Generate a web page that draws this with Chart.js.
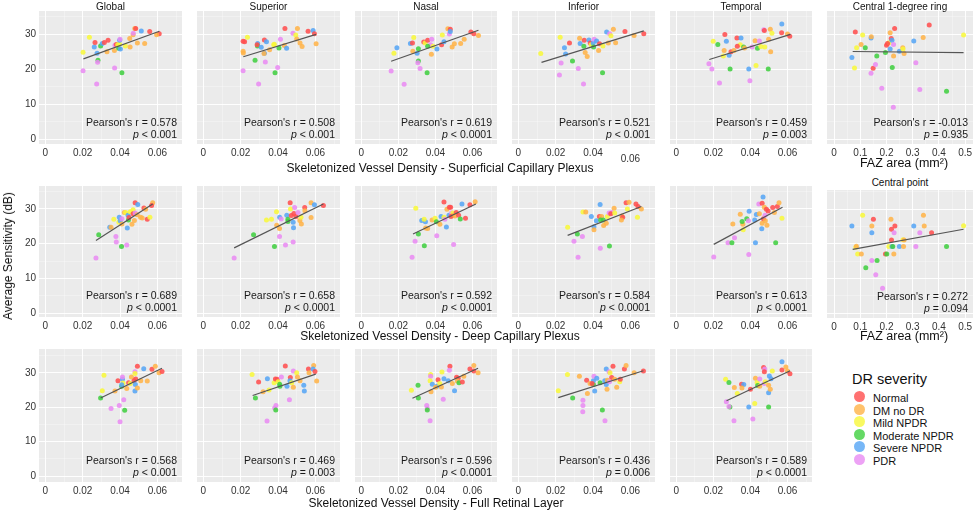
<!DOCTYPE html>
<html>
<head>
<meta charset="utf-8">
<script src="https://cdn.jsdelivr.net/npm/chart.js@4.4.1/dist/chart.umd.min.js"></script>
<style>
  body { margin: 0; background: #fff; font-family: 'Liberation Sans', Arial, sans-serif; }
  #fig { position: relative; width: 975px; height: 513px; overflow: hidden; }
  .panel { position: absolute; }
  .lbl { position: absolute; white-space: nowrap; color: #111; line-height: 1; }
  .key { position: absolute; font-size: 11px; color: #111; line-height: 1; white-space: nowrap; }
  .key i { position: absolute; left: -19px; top: -2px; width: 11px; height: 11px; border-radius: 50%; }
</style>
</head>
<body>
<div id="fig"></div>
<script>
// groups (DR severity) and their colours
const groups = ['Normal', 'DM no DR', 'Mild NPDR', 'Moderate NPDR', 'Severe NPDR', 'PDR'];
const groupColors = ['#ff4d4d', '#ffb347', '#f8f83a', '#3fcf3f', '#55a5f5', '#e98bf2'];

const regionTitles = ['Global', 'Superior', 'Nasal', 'Inferior', 'Temporal'];

// points are [x, y, group index]
// ---- superficial capillary plexus
const scpGlobal = [[0.0202,24.9,2],[0.0202,19.6,5],[0.0236,29.2,2],[0.0262,26.4,4],[0.0266,27.7,0],[0.0277,24.6,4],[0.0282,22.6,3],[0.028,22.0,5],[0.0275,15.8,5],[0.0296,26.7,3],[0.0305,27.4,4],[0.0316,27.7,0],[0.0336,28.3,0],[0.033,25.0,1],[0.037,25.4,1],[0.0373,26.9,5],[0.0371,20.4,5],[0.038,27.1,0],[0.0388,27.0,2],[0.0393,26.0,3],[0.0398,27.2,2],[0.0398,28.3,4],[0.04,28.6,5],[0.0402,25.8,4],[0.041,19.0,3],[0.0429,26.7,2],[0.0454,26.4,1],[0.0452,28.8,1],[0.047,29.9,1],[0.0471,30.3,5],[0.0479,31.7,1],[0.0484,31.7,0],[0.0493,27.5,1],[0.0514,31.0,4],[0.0532,27.4,1],[0.0559,30.8,0],[0.061,30.2,0],[0.0596,29.9,1]];
const scpSuperior = [[0.0213,19.6,5],[0.0236,29.2,2],[0.0213,28.0,0],[0.0221,27.9,0],[0.0213,25.2,1],[0.0214,24.7,1],[0.0277,22.6,3],[0.0291,27.4,4],[0.029,26.7,3],[0.0288,27.0,0],[0.0296,15.8,5],[0.031,26.3,4],[0.0327,28.4,0],[0.0338,27.9,4],[0.0332,22.1,5],[0.0327,24.6,4],[0.0325,24.5,1],[0.0355,25.6,1],[0.038,27.2,2],[0.0377,27.0,2],[0.0398,20.5,5],[0.0384,19.0,3],[0.0405,26.1,3],[0.0413,28.6,5],[0.0434,26.8,1],[0.0437,31.7,0],[0.0446,26.0,4],[0.048,30.3,5],[0.0495,29.8,2],[0.05,28.7,1],[0.0504,31.7,1],[0.0518,27.5,1],[0.0529,26.5,1],[0.0561,30.9,0],[0.0588,31.1,4],[0.0595,30.2,0],[0.0604,27.3,1]];
const scpNasal = [[0.0161,19.5,5],[0.0176,24.6,2],[0.0192,26.2,4],[0.0231,15.7,5],[0.0265,27.4,4],[0.0276,27.5,0],[0.0278,25.2,1],[0.0283,29.1,2],[0.0301,24.6,4],[0.0308,25.9,3],[0.0308,22.4,3],[0.0305,21.9,5],[0.0317,20.2,5],[0.0337,27.8,0],[0.0344,27.5,2],[0.0358,28.3,0],[0.0355,19.0,3],[0.038,28.6,5],[0.0374,27.0,5],[0.0358,26.6,3],[0.0387,26.6,2],[0.0378,24.3,1],[0.0408,25.8,4],[0.0437,29.8,2],[0.0433,27.0,0],[0.0446,27.9,4],[0.0467,31.6,1],[0.048,31.5,0],[0.0475,30.1,5],[0.048,30.8,4],[0.049,26.4,1],[0.0502,27.3,1],[0.0536,27.4,1],[0.0555,28.6,1],[0.0591,30.7,0],[0.0607,30.2,0],[0.0632,29.7,1]];
const scpInferior = [[0.012,24.5,2],[0.0224,29.2,2],[0.0229,21.8,5],[0.022,18.4,5],[0.0247,26.2,4],[0.0253,24.4,4],[0.0274,27.5,0],[0.029,22.4,3],[0.0321,20.2,5],[0.0328,28.9,1],[0.0331,27.4,4],[0.0353,28.3,0],[0.0351,26.6,3],[0.0349,15.8,5],[0.0358,24.8,1],[0.0369,23.7,1],[0.0378,28.4,4],[0.0385,27.5,0],[0.039,27.0,2],[0.0401,27.5,4],[0.0403,26.4,3],[0.0406,28.6,5],[0.0419,28.1,4],[0.0435,27.3,0],[0.043,25.4,1],[0.0451,19.0,3],[0.0453,26.7,2],[0.0482,27.5,1],[0.0473,30.7,4],[0.0489,30.2,5],[0.0496,29.6,2],[0.0509,31.5,1],[0.0521,27.6,1],[0.0571,30.8,0],[0.062,29.7,1],[0.0672,30.2,0]];
const scpTemporal = [[0.0176,21.6,5],[0.0192,20.1,5],[0.0199,28.0,2],[0.0224,27.1,3],[0.0233,16.1,5],[0.0254,23.8,2],[0.0258,25.4,1],[0.0262,30.0,0],[0.027,28.0,4],[0.0285,24.0,4],[0.029,20.1,3],[0.0295,25.0,0],[0.0311,25.4,1],[0.0345,27.0,2],[0.0327,29.0,0],[0.0349,29.0,4],[0.0329,26.6,0],[0.0363,26.4,3],[0.0368,26.1,1],[0.0391,20.1,4],[0.0397,16.7,5],[0.0409,26.4,5],[0.0425,28.2,1],[0.0438,26.0,3],[0.043,21.1,2],[0.0448,28.1,5],[0.0456,26.5,2],[0.0477,26.4,2],[0.0472,31.3,5],[0.0475,31.1,0],[0.0498,28.6,1],[0.0496,20.1,3],[0.0509,25.0,1],[0.0507,31.5,1],[0.0516,30.3,2],[0.0568,30.5,0],[0.0569,33.0,4],[0.06,30.1,1],[0.0612,29.5,0]];
const scpFits = [
  [[0.0204,23.0],[0.0611,30.9]],
  [[0.0214,23.6],[0.0604,30.0]],
  [[0.0161,22.3],[0.0632,31.2]],
  [[0.0124,22.0],[0.0672,31.0]],
  [[0.0178,22.8],[0.0616,30.0]]
];
const scpStats = [['0.578','< 0.001'],['0.508','< 0.001'],['0.619','< 0.0001'],['0.521','< 0.001'],['0.459','= 0.003']];

// ---- FAZ area vs central 1-degree ring
const fazRing = [[0.068,23.4,4],[0.081,30.7,0],[0.086,26.2,2],[0.078,20.4,2],[0.103,27.1,1],[0.109,29.8,2],[0.119,26.2,3],[0.141,29.0,4],[0.142,29.3,1],[0.141,18.9,5],[0.149,20.3,0],[0.158,21.4,5],[0.163,23.8,3],[0.182,14.6,5],[0.196,24.8,3],[0.2,26.9,0],[0.209,27.6,2],[0.204,27.4,0],[0.214,30.5,1],[0.214,25.8,4],[0.218,28.8,0],[0.221,28.3,4],[0.227,27.1,5],[0.227,23.8,1],[0.231,31.7,0],[0.222,20.5,3],[0.226,9.1,5],[0.249,25.2,4],[0.262,26.2,1],[0.267,24.5,1],[0.263,25.8,2],[0.304,28.1,4],[0.312,21.9,5],[0.327,14.2,5],[0.34,29.1,1],[0.363,32.7,0],[0.429,13.7,3],[0.494,29.8,2]];
const fazRingFit = [[0.071,25.1],[0.494,24.8]];
const fazRingStats = ['-0.013', '= 0.935'];

// ---- deep capillary plexus
const dcpGlobal = [[0.0271,15.9,5],[0.0286,22.6,3],[0.0345,24.7,4],[0.0352,24.7,1],[0.0367,27.0,2],[0.0396,27.6,4],[0.0378,22.1,5],[0.038,20.5,5],[0.0394,26.2,2],[0.0401,26.6,4],[0.0408,19.2,3],[0.041,27.2,5],[0.041,25.7,1],[0.0423,29.0,1],[0.043,29.0,2],[0.0436,19.6,5],[0.0439,24.5,4],[0.0445,26.8,3],[0.0443,28.2,4],[0.0448,27.5,0],[0.0455,29.2,2],[0.0464,25.6,1],[0.047,29.8,2],[0.047,28.6,0],[0.0477,26.7,1],[0.0481,31.8,0],[0.0481,28.8,5],[0.0495,31.3,4],[0.0492,28.3,1],[0.051,27.6,1],[0.0519,27.4,1],[0.0528,30.3,0],[0.0537,29.9,1],[0.0546,27.0,0],[0.056,27.6,2],[0.0575,31.8,1],[0.0569,31.0,0]];
const dcpSuperior = [[0.0165,15.9,5],[0.0269,22.6,3],[0.0381,19.2,3],[0.044,19.6,5],[0.0481,20.5,5],[0.0408,22.1,5],[0.0338,26.8,2],[0.0365,27.0,2],[0.0392,29.2,2],[0.0393,25.3,1],[0.0408,24.4,1],[0.0409,27.6,4],[0.0417,27.1,5],[0.0447,28.2,4],[0.0453,27.0,3],[0.0453,26.4,3],[0.0465,31.8,0],[0.0467,30.0,2],[0.0471,28.1,0],[0.0481,26.2,4],[0.0483,24.6,4],[0.0485,28.7,0],[0.0489,30.4,5],[0.0496,27.8,0],[0.0507,29.0,5],[0.0517,26.7,1],[0.0525,25.7,1],[0.0523,27.6,2],[0.0543,30.4,0],[0.0544,29.5,1],[0.0577,31.8,1],[0.0577,27.5,1],[0.0595,31.2,4],[0.0643,31.0,0]];
const dcpNasal = [[0.0274,16.1,5],[0.029,20.7,5],[0.0308,22.8,3],[0.034,19.4,3],[0.0294,30.2,2],[0.0326,26.7,4],[0.0346,26.3,4],[0.0339,27.0,2],[0.0347,24.5,1],[0.0358,24.4,1],[0.0382,26.8,1],[0.0398,27.3,2],[0.0405,26.3,3],[0.0407,22.3,5],[0.0424,25.6,1],[0.043,27.8,4],[0.0446,27.6,2],[0.0446,32.0,0],[0.0451,27.0,5],[0.0459,24.8,4],[0.0462,29.9,1],[0.0473,28.2,4],[0.0475,30.5,0],[0.0482,30.5,0],[0.0487,28.8,5],[0.0494,28.8,2],[0.0493,28.1,1],[0.0484,27.8,0],[0.0512,29.0,0],[0.0505,28.0,1],[0.0498,19.8,5],[0.0525,28.2,0],[0.0534,27.1,3],[0.0562,27.3,0],[0.0543,31.4,4],[0.0586,31.2,0],[0.0614,32.1,1]];
const dcpInferior = [[0.0264,24.7,2],[0.0298,20.7,5],[0.0316,22.8,3],[0.0343,22.1,5],[0.032,16.1,5],[0.0346,29.1,2],[0.0361,29.1,1],[0.0391,27.8,4],[0.0438,31.3,4],[0.0434,27.8,0],[0.0418,26.6,4],[0.0405,24.9,4],[0.0405,24.0,1],[0.0446,27.8,1],[0.0455,26.8,3],[0.0457,25.2,1],[0.0441,26.8,3],[0.0471,25.9,1],[0.0477,27.8,2],[0.0486,28.8,5],[0.05,29.0,5],[0.0495,28.6,0],[0.0439,18.7,5],[0.0488,19.3,3],[0.0513,30.2,1],[0.0516,28.8,2],[0.0554,28.0,1],[0.0559,27.6,0],[0.0552,26.8,1],[0.0577,31.8,0],[0.0593,31.9,1],[0.0584,30.0,2],[0.063,31.4,0],[0.0641,30.7,0],[0.0659,30.0,1],[0.0638,27.6,2]];
const dcpTemporal = [[0.0202,16.2,5],[0.0279,20.3,5],[0.03,20.3,3],[0.0314,21.7,5],[0.0305,25.7,1],[0.0345,28.5,1],[0.0359,25.6,1],[0.0361,24.0,2],[0.0355,26.4,3],[0.0393,29.3,4],[0.038,27.2,3],[0.0389,26.6,5],[0.0391,16.9,5],[0.0427,20.3,4],[0.0432,28.4,4],[0.0423,26.8,4],[0.0448,28.6,1],[0.0445,31.4,5],[0.0463,31.6,0],[0.0468,33.4,4],[0.0463,25.9,1],[0.0461,24.3,4],[0.047,27.2,0],[0.0475,30.5,1],[0.0479,28.2,5],[0.0486,29.9,0],[0.0495,29.4,0],[0.0489,25.3,1],[0.048,26.6,1],[0.052,30.4,0],[0.0536,20.3,3],[0.0529,29.0,1],[0.0545,30.7,0],[0.0554,31.8,1],[0.057,27.3,2]];
const dcpFits = [
  [[0.0271,20.9],[0.0575,31.4]],
  [[0.0165,18.8],[0.0643,31.4]],
  [[0.0279,22.8],[0.0618,31.4]],
  [[0.0264,22.4],[0.0659,30.7]],
  [[0.0202,19.8],[0.0573,30.5]]
];
const dcpStats = [['0.689','< 0.0001'],['0.658','< 0.0001'],['0.592','< 0.0001'],['0.584','< 0.0001'],['0.613','< 0.0001']];

// ---- FAZ area vs central point
const fazPoint = [[0.068,25.1,4],[0.109,28.2,2],[0.083,19.0,2],[0.085,19.3,1],[0.09,17.1,2],[0.104,17.1,1],[0.121,13.1,3],[0.144,25.1,1],[0.144,23.2,4],[0.15,27.1,0],[0.144,15.2,5],[0.164,15.2,3],[0.159,11.1,5],[0.185,7.2,5],[0.217,27.1,1],[0.219,24.2,0],[0.232,25.1,0],[0.229,23.2,5],[0.219,21.1,0],[0.209,19.2,2],[0.221,19.2,4],[0.224,19.2,3],[0.196,17.1,0],[0.201,17.1,3],[0.228,17.1,1],[0.263,21.2,2],[0.267,21.1,1],[0.249,19.2,4],[0.265,19.2,1],[0.304,25.1,4],[0.312,19.2,5],[0.341,28.2,1],[0.344,25.1,1],[0.327,23.2,5],[0.372,23.2,0],[0.429,19.2,3],[0.494,25.2,2]];
const fazPointFit = [[0.071,18.4],[0.494,24.2]];
const fazPointStats = ['0.272', '= 0.094'];

// ---- full retinal layer
const frlGlobal = [[0.0314,29.3,2],[0.0305,24.8,2],[0.0296,22.7,3],[0.0352,19.6,5],[0.0396,20.5,5],[0.042,22.2,5],[0.04,15.8,5],[0.0425,19.1,3],[0.0373,24.7,1],[0.0389,27.7,0],[0.0413,28.1,4],[0.0413,28.8,5],[0.0409,26.1,3],[0.0416,27.0,2],[0.0409,26.5,4],[0.0436,25.4,1],[0.0446,27.1,0],[0.0455,26.9,2],[0.0461,28.8,1],[0.0475,27.7,0],[0.048,24.7,4],[0.048,30.3,5],[0.048,29.8,2],[0.0484,28.2,0],[0.0482,26.6,4],[0.0493,25.6,1],[0.0493,31.9,0],[0.0527,31.2,4],[0.0511,27.7,1],[0.0546,27.6,1],[0.0571,31.0,0],[0.0589,31.9,1],[0.0609,30.0,1],[0.0625,30.4,0]];
const frlSuperior = [[0.0261,29.5,2],[0.0279,22.7,3],[0.0296,27.3,0],[0.0343,28.3,4],[0.032,24.5,1],[0.0352,25.0,2],[0.0341,16.0,5],[0.0379,27.1,2],[0.0386,28.2,0],[0.0395,28.1,0],[0.0382,19.8,5],[0.0389,20.5,5],[0.0388,19.2,3],[0.04,27.4,2],[0.0409,26.7,3],[0.041,26.1,3],[0.0418,28.8,5],[0.0439,32.0,0],[0.0448,26.1,4],[0.0461,22.2,5],[0.0466,28.6,0],[0.0464,27.7,4],[0.0473,27.1,2],[0.0482,30.5,5],[0.0482,25.8,1],[0.05,30.0,2],[0.0504,28.8,1],[0.0518,27.7,1],[0.0538,26.4,4],[0.0541,24.7,4],[0.0563,31.1,0],[0.0566,30.0,1],[0.0591,32.1,1],[0.0588,31.1,4],[0.0598,30.4,0],[0.0607,27.6,1]];
const frlNasal = [[0.027,24.9,2],[0.0306,26.4,3],[0.0308,22.7,3],[0.0374,29.5,2],[0.0374,29.0,5],[0.0371,27.7,2],[0.0383,26.7,4],[0.0376,24.5,1],[0.0408,26.1,4],[0.0401,25.8,1],[0.0414,28.0,0],[0.0423,26.9,2],[0.0435,30.2,2],[0.0432,25.9,1],[0.0446,28.3,4],[0.0442,22.3,5],[0.0353,20.5,5],[0.0356,19.6,5],[0.0356,19.2,3],[0.0371,16.1,5],[0.0478,31.9,0],[0.0475,30.7,5],[0.0469,27.7,4],[0.0491,26.9,1],[0.0503,24.8,4],[0.0514,28.7,0],[0.0523,28.4,0],[0.0518,27.6,1],[0.0527,27.1,3],[0.0545,27.3,0],[0.0553,29.0,1],[0.0586,31.1,0],[0.0607,32.1,1],[0.0607,30.5,0],[0.063,30.0,1]];
const frlInferior = [[0.0214,24.8,2],[0.0263,29.5,2],[0.0291,22.7,3],[0.0327,29.0,1],[0.0346,22.0,5],[0.0346,20.5,5],[0.0345,18.7,5],[0.0366,27.8,0],[0.037,24.0,1],[0.0384,26.9,1],[0.0402,26.6,3],[0.0402,27.7,4],[0.0405,29.0,5],[0.042,28.4,4],[0.0395,26.9,0],[0.0409,24.7,4],[0.0438,27.1,3],[0.045,19.2,3],[0.0464,16.1,5],[0.0463,27.7,4],[0.0477,27.8,1],[0.0471,26.6,4],[0.0475,25.2,1],[0.0471,31.1,4],[0.0486,30.3,5],[0.0491,30.0,2],[0.0507,31.9,0],[0.05,28.6,0],[0.0488,27.4,5],[0.0516,28.1,1],[0.0527,25.8,1],[0.0543,27.4,2],[0.0546,28.1,0],[0.0568,31.1,0],[0.0577,32.1,1],[0.062,30.0,1],[0.067,30.5,0]];
const frlTemporal = [[0.0266,28.1,2],[0.0284,27.2,3],[0.027,21.6,5],[0.0289,20.1,3],[0.0284,20.2,5],[0.0311,16.1,5],[0.0329,24.0,2],[0.0313,25.7,1],[0.0352,26.7,0],[0.0364,26.6,4],[0.0354,25.6,1],[0.04,25.2,0],[0.0391,20.1,4],[0.0413,16.6,5],[0.0427,28.4,1],[0.0436,27.2,2],[0.0439,26.3,3],[0.045,26.1,1],[0.045,28.2,5],[0.0423,21.1,2],[0.0471,31.5,0],[0.0477,31.1,5],[0.0475,30.3,0],[0.0475,26.9,5],[0.048,27.4,2],[0.0498,26.4,1],[0.0498,24.2,4],[0.0507,25.2,1],[0.0498,20.1,3],[0.0502,29.1,4],[0.0511,28.3,4],[0.0518,30.5,2],[0.057,30.8,0],[0.057,33.2,4],[0.0591,31.7,1],[0.06,30.5,1],[0.0613,29.7,0]];
const frlFits = [
  [[0.0296,22.7],[0.0625,31.3]],
  [[0.0264,23.4],[0.0602,29.6]],
  [[0.0276,22.6],[0.063,31.3]],
  [[0.0214,22.8],[0.067,30.6]],
  [[0.0271,21.9],[0.0614,30.6]]
];
const frlStats = [['0.568','< 0.001'],['0.469','= 0.003'],['0.596','< 0.0001'],['0.436','= 0.006'],['0.589','< 0.0001']];

// ---------------- layout
const FONT = "'Liberation Sans', Arial, sans-serif";
Chart.defaults.font.family = FONT;

const fig = document.getElementById('fig');
const colLeft = [39, 197, 355, 512, 670, 827];
const colWidth = [143, 143, 142, 143, 142, 146];
const rowTop = [11, 186, 349];
const rowHeight = [133, 131, 133];
const rowY = [[-1.4, 36.7], [-1.1, 36.6], [-1.7, 36.9]];
const svdRange = [-0.0034, 0.0732];
const fazRange = [-0.027, 0.53];
const TICK_H = 18;

const panelBg = {
  id: 'panelBg',
  beforeDraw(chart) {
    const a = chart.chartArea, ctx = chart.ctx;
    ctx.save();
    ctx.fillStyle = '#ebebeb';
    ctx.fillRect(a.left, a.top, a.width, a.height);
    ctx.restore();
  }
};

const stats = {
  id: 'stats',
  afterDraw(chart, args, opts) {
    const a = chart.chartArea, ctx = chart.ctx;
    const xr = a.right - 5;
    ctx.save();
    ctx.fillStyle = '#1a1a1a';
    ctx.textAlign = 'right';
    ctx.textBaseline = 'middle';
    ctx.font = '10.5px ' + FONT;
    ctx.fillText("Pearson's r = " + opts.r, xr, a.bottom - 20.5);
    const rest = ' ' + opts.p;
    ctx.fillText(rest, xr, a.bottom - 8.5);
    const w = ctx.measureText(rest).width;
    ctx.font = 'italic 10.5px ' + FONT;
    ctx.fillText('p', xr - w, a.bottom - 8.5);
    // x tick label that sits lower than the others (Inferior, top row)
    if (opts.lowTick != null) {
      ctx.font = '10px ' + FONT;
      ctx.fillStyle = '#333';
      ctx.textAlign = 'center';
      ctx.fillText(opts.lowTick.toFixed(2), chart.scales.x.getPixelForValue(opts.lowTick), a.bottom + 15);
    }
    ctx.restore();
  }
};

function makePanel(p) {
  const padL = p.showY ? 30 : 0;
  const W = p.w + padL, H = p.h + TICK_H;
  const div = document.createElement('div');
  div.className = 'panel';
  div.style.left = (p.left - padL) + 'px';
  div.style.top = p.top + 'px';
  const cv = document.createElement('canvas');
  cv.width = W; cv.height = H;
  cv.style.width = W + 'px'; cv.style.height = H + 'px';
  div.appendChild(cv);
  fig.appendChild(div);

  const faz = p.faz;
  const xStep = faz ? 0.05 : 0.01;
  const noPad = s => { s.paddingLeft = s.paddingRight = s.paddingTop = s.paddingBottom = 0; };
  const grid = {
    drawTicks: false,
    color: c => (c.tick && isMajor(c.tick.value, c.scale.axis === 'y' ? 10 : xStep * 2)) ? 'rgba(255,255,255,0.95)' : 'rgba(255,255,255,0.55)',
    lineWidth: c => (c.tick && isMajor(c.tick.value, c.scale.axis === 'y' ? 10 : xStep * 2)) ? 1 : 0.6
  };

  new Chart(cv, {
    type: 'scatter',
    data: {
      datasets: [
        {
          data: p.fit.map(([x, y]) => ({ x, y })),
          showLine: true, borderColor: '#555', borderWidth: 1.2,
          pointRadius: 0, order: 0
        },
        {
          data: p.pts.map(([x, y]) => ({ x, y })),
          pointBackgroundColor: p.pts.map(d => groupColors[d[2]] + 'dd'),
          pointBorderWidth: 0, pointRadius: 2.5, order: 1
        }
      ]
    },
    options: {
      responsive: false, animation: false, devicePixelRatio: 1,
      layout: { padding: 0, autoPadding: false },
      plugins: {
        legend: { display: false }, tooltip: { enabled: false },
        stats: { r: p.stat[0], p: p.stat[1], lowTick: p.lowTick }
      },
      scales: {
        x: {
          type: 'linear', min: faz ? fazRange[0] : svdRange[0], max: faz ? fazRange[1] : svdRange[1],
          afterFit: s => { s.height = TICK_H; noPad(s); },
          border: { display: false }, grid,
          ticks: {
            stepSize: xStep, includeBounds: false, autoSkip: false, maxRotation: 0,
            padding: 3, color: '#333', font: { size: 10 },
            callback: v => {
              if (!isMajor(v, xStep * 2)) return '';
              if (p.lowTick != null && Math.abs(v - p.lowTick) < 1e-6) return '';
              return Math.abs(v) < 1e-9 ? '0' : v.toFixed(faz ? 1 : 2);
            }
          }
        },
        y: {
          type: 'linear', min: p.yr[0], max: p.yr[1],
          afterFit: s => { s.width = padL; noPad(s); },
          border: { display: false }, grid,
          ticks: {
            display: p.showY, stepSize: 5, includeBounds: false, autoSkip: false,
            padding: 3, color: '#333', font: { size: 10 },
            callback: v => isMajor(v, 10) ? String(Math.round(v)) : ''
          }
        }
      }
    },
    plugins: [panelBg, stats]
  });
}

function isMajor(v, step) {
  const k = v / step;
  return Math.abs(k - Math.round(k)) < 1e-6;
}

function addLabel(text, cx, cy, size, rotate) {
  const d = document.createElement('div');
  d.className = 'lbl';
  d.textContent = text;
  d.style.left = cx + 'px';
  d.style.top = cy + 'px';
  d.style.fontSize = size + 'px';
  d.style.transform = 'translate(-50%,-50%)' + (rotate ? ' rotate(-90deg)' : '');
  fig.appendChild(d);
}

const rows = [
  { pts: [scpGlobal, scpSuperior, scpNasal, scpInferior, scpTemporal], fits: scpFits, stats: scpStats,
    faz: { pts: fazRing, fit: fazRingFit, stat: fazRingStats } },
  { pts: [dcpGlobal, dcpSuperior, dcpNasal, dcpInferior, dcpTemporal], fits: dcpFits, stats: dcpStats,
    faz: { pts: fazPoint, fit: fazPointFit, stat: fazPointStats } },
  { pts: [frlGlobal, frlSuperior, frlNasal, frlInferior, frlTemporal], fits: frlFits, stats: frlStats, faz: null }
];

rows.forEach((row, r) => {
  row.pts.forEach((pts, c) => {
    makePanel({
      pts, fit: row.fits[c], stat: row.stats[c], faz: false,
      left: colLeft[c], w: colWidth[c], top: rowTop[r], h: rowHeight[r], yr: rowY[r],
      showY: c === 0, lowTick: (r === 0 && c === 3) ? 0.06 : null
    });
  });
  if (row.faz) {
    // the central point panel sits a little lower, under its own strip title
    const top = r === 0 ? rowTop[r] : 190;
    const h = r === 0 ? rowHeight[r] : 128;
    const yr = r === 0 ? rowY[r] : [-1.35, 35.5];
    makePanel({ ...row.faz, faz: true, left: colLeft[5], w: colWidth[5], top, h, yr, showY: false, lowTick: null });
  }
});

// strip titles
regionTitles.forEach((t, c) => addLabel(t, colLeft[c] + colWidth[c] / 2, 7, 10));
addLabel('Central 1-degree ring', colLeft[5] + colWidth[5] / 2, 7, 10);
addLabel('Central point', colLeft[5] + colWidth[5] / 2, 183, 10);

// axis titles
addLabel('Skeletonized Vessel Density - Superficial Capillary Plexus', 440, 168, 12);
addLabel('Skeletonized Vessel Density - Deep Capillary Plexus', 440, 336, 12);
addLabel('Skeletonized Vessel Density - Full Retinal Layer', 436, 503, 12);
addLabel('FAZ area (mm²)', 904, 163, 12.5);
addLabel('FAZ area (mm²)', 904, 336, 12.5);
addLabel('Average Sensitivity (dB)', 8, 256, 12, true);

// legend
const lt = document.createElement('div');
lt.className = 'lbl';
lt.textContent = 'DR severity';
lt.style.left = '852px'; lt.style.top = '372px'; lt.style.fontSize = '14.5px';
fig.appendChild(lt);
groups.forEach((g, i) => {
  const k = document.createElement('div');
  k.className = 'key';
  k.style.left = '873px';
  k.style.top = (393 + i * 12.6) + 'px';
  k.innerHTML = '<i style="background:' + groupColors[i] + 'cc"></i>' + g;
  fig.appendChild(k);
});
</script>
</body>
</html>
